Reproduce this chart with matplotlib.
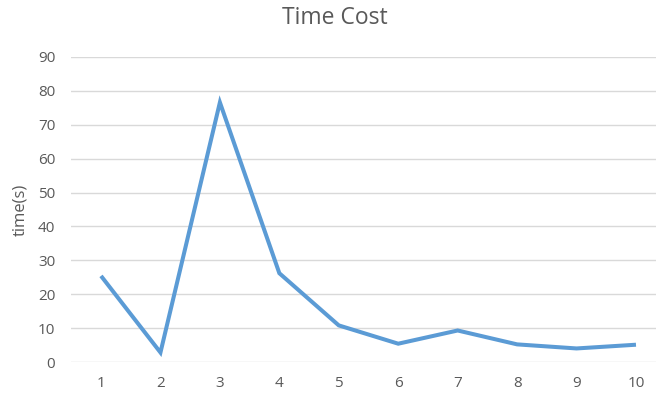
import matplotlib
matplotlib.use("Agg")
import matplotlib.pyplot as plt

runs = [1, 2, 3, 4, 5, 6, 7, 8, 9, 10]
time_s = [25.4, 2.8, 76.6, 26.2, 10.8, 5.4, 9.3, 5.2, 4.0, 5.1]
y_ticks = [0, 10, 20, 30, 40, 50, 60, 70, 80, 90]

W, H = 656, 394
fig = plt.figure(figsize=(W / 100, H / 100), dpi=100)
left, right = 71.3, 665.7
top, bottom = 57.0, 362.0
ax = fig.add_axes([left / W, 1 - bottom / H, (right - left) / W, (bottom - top) / H])

text_color = "#595959"
font = ["Open Sans", "DejaVu Sans"]

ax.plot(runs, time_s, color="#5B9BD5", lw=2.9, solid_joinstyle="miter", solid_capstyle="butt")
ax.set_xlim(0.5, 10.5)
ax.set_ylim(0, 90)
ax.set_yticks(y_ticks)
ax.set_xticks(runs)
ax.yaxis.grid(True, color="#D9D9D9", lw=1.0)
ax.set_axisbelow(True)
for s in ax.spines.values():
    s.set_visible(False)
ax.tick_params(length=0, colors=text_color, labelsize=11)
for lab in ax.get_xticklabels() + ax.get_yticklabels():
    lab.set_family(font)
ax.tick_params(axis="x", pad=10)
ax.tick_params(axis="y", pad=11.5)

fig.text(20 / W, 1 - 210 / H, "time(s)", rotation=90, ha="center", va="center",
         color=text_color, fontsize=12, family=font)
fig.text(335 / W, 1 - 18 / H, "Time Cost", ha="center", va="center",
         color=text_color, fontsize=16.5, family=font)

fig.savefig("out.png", dpi=100)
